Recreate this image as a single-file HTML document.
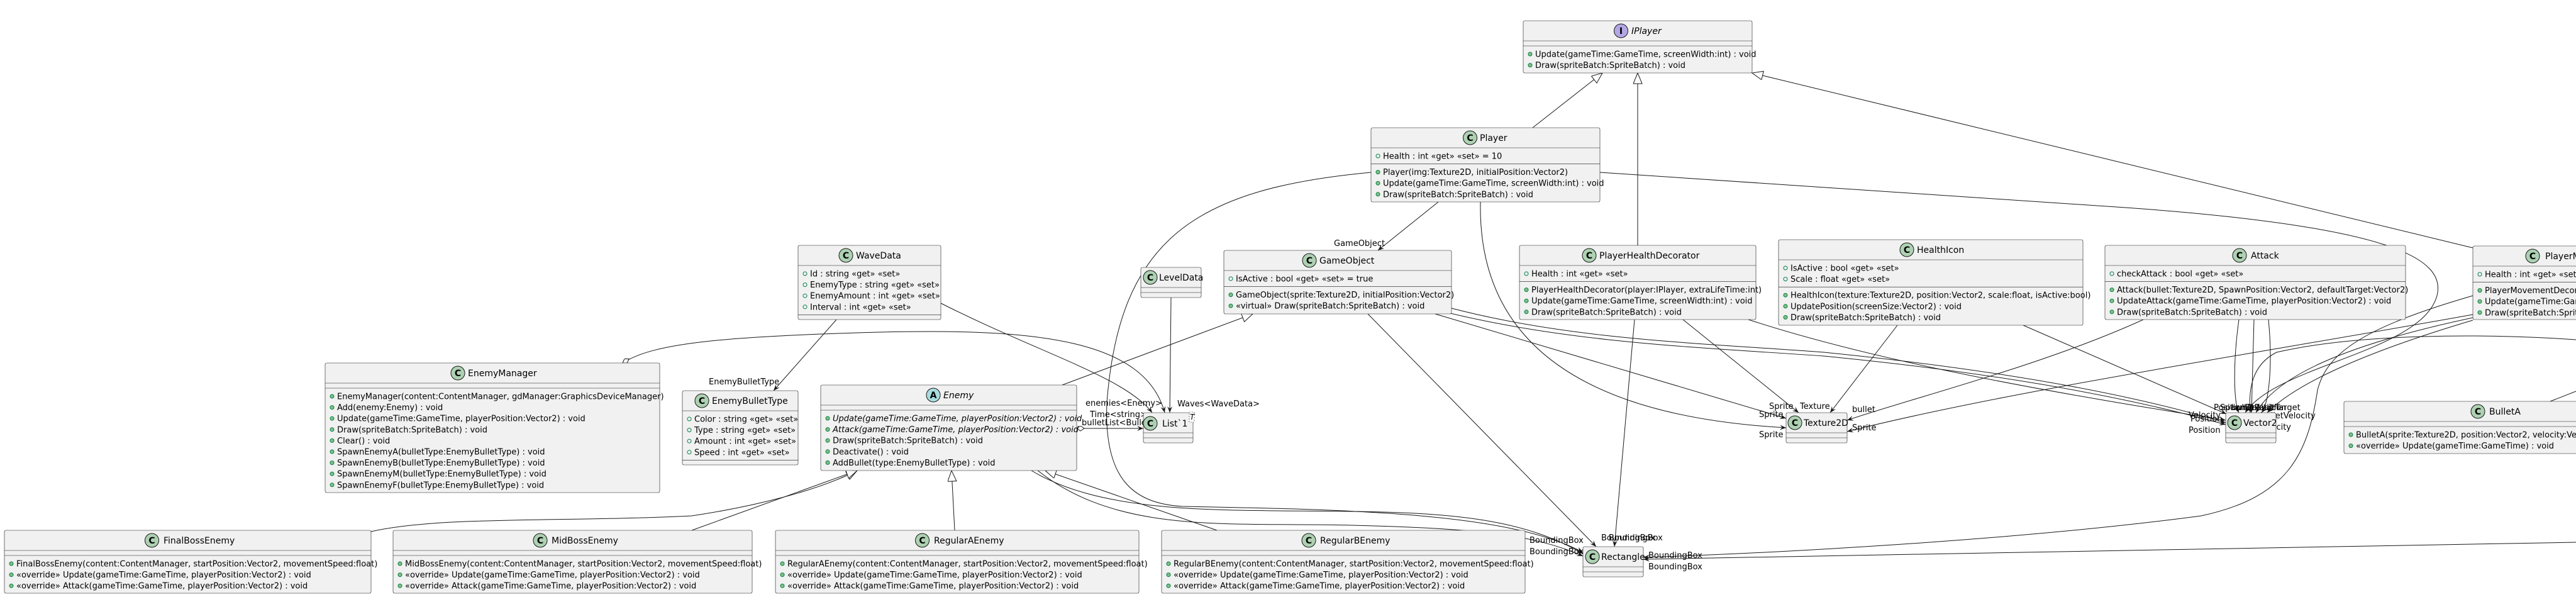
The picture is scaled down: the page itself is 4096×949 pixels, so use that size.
<!DOCTYPE html>
<html><head><meta charset="utf-8"><style>
html,body{margin:0;padding:0;background:#fff;}
svg{display:block;}
text{font-family:"DejaVu Sans","Liberation Sans",sans-serif;font-size:13px;fill:#000;}
.t{font-size:14px;}
.i{font-style:italic;}
.l{font-size:12px;}
.b{fill:#F1F1F1;stroke:#181818;stroke-width:0.6;}
.s{stroke:#181818;stroke-width:0.6;}
.e{fill:none;stroke:#181818;stroke-width:1;}
.ma{fill:none;stroke:#038048;stroke-width:1;}
.mm{fill:#84BE84;stroke:#038048;stroke-width:1;}
.ic{fill:#ADD1B2;stroke:#181818;stroke-width:1;}
.il{font-size:14px;font-weight:bold;text-anchor:middle;}
</style></head><body>
<svg width="4096" height="949" viewBox="0 0 4096 949" xmlns="http://www.w3.org/2000/svg">
<defs>
<marker id="ar" markerUnits="userSpaceOnUse" markerWidth="12" markerHeight="10" refX="10" refY="4" orient="auto"><path d="M0,0 L10,4 L0,8 L4,4 Z" fill="#181818"/></marker>
<marker id="tr" markerUnits="userSpaceOnUse" markerWidth="20" markerHeight="16" refX="18" refY="7" orient="auto"><path d="M1,0 L18,7 L1,14 Z" fill="#fff" stroke="#181818" stroke-width="1"/></marker>
<marker id="di" markerUnits="userSpaceOnUse" markerWidth="14" markerHeight="10" refX="1" refY="4" orient="auto"><path d="M1,4 L7,0 L13,4 L7,8 Z" fill="#fff" stroke="#181818" stroke-width="1"/></marker>
</defs>

<!-- ===== EDGES ===== -->
<g class="e">
<path d="M2437,203 L2548,116" marker-end="url(#tr)"/>
<path d="M2604,390 L2604,116" marker-end="url(#tr)"/>
<path d="M3932,394 L2786,116" marker-end="url(#tr)"/>
<path d="M2287,321 L2191,398" marker-end="url(#ar)"/>
<path d="M1689,612 L1992,499" marker-end="url(#tr)"/>
<path d="M1862,473 L1860,656" marker-end="url(#ar)"/>
<path d="M1330,508 L1230,621" marker-end="url(#ar)"/>
<path d="M1496,482 C1650,560 1790,600 1832,656" marker-end="url(#ar)"/>
<path d="M990,577 C1040,545 1150,535 1400,528 C1650,522 1820,540 1852,656" marker-start="url(#di)" marker-end="url(#ar)"/>
<path d="M1712,681 L1818,681" marker-start="url(#di)" marker-end="url(#ar)"/>
<!-- enemy subclasses -->
<path d="M590,845 C700,820 900,830 1100,820 C1200,805 1300,780 1363,748" marker-end="url(#tr)"/>
<path d="M1100,843 L1363,748" marker-end="url(#tr)"/>
<path d="M1518,843 L1513,748" marker-end="url(#tr)"/>
<path d="M1935,843 L1662,748" marker-end="url(#tr)"/>
<!-- Enemy -> Rectangle -->
<path d="M1640,748 C1760,820 1950,810 2150,813 C2330,815 2430,830 2517,880" marker-end="url(#ar)"/>
<path d="M1650,748 C1780,850 1950,830 2150,835 C2350,840 2440,850 2517,884" marker-end="url(#ar)"/>
<!-- Player -> Rectangle -->
<path d="M2180,274 C1900,300 1780,380 1760,640 C1755,760 1800,800 1880,805 C2150,810 2400,815 2517,878" marker-end="url(#ar)"/>
<!-- Player -> Texture2D -->
<path d="M2354,321 C2350,520 2480,660 2840,680" marker-end="url(#ar)"/>
<!-- Player -> Vector2 -->
<path d="M2544,274 L3380,330 C3800,360 3890,410 3875,470 C3850,560 3620,580 3570,656" marker-end="url(#ar)"/>
<!-- GameObject edges -->
<path d="M2282,499 L2840,665" marker-end="url(#ar)"/>
<path d="M2308,490 C2500,540 2700,545 2900,560 C3200,590 3400,630 3539,672" marker-end="url(#ar)"/>
<path d="M2302,497 C2500,545 2700,552 2900,566 C3200,595 3400,636 3539,675" marker-end="url(#ar)"/>
<path d="M2175,499 L2538,869" marker-end="url(#ar)"/>
<!-- PHD edges -->
<path d="M2599,508 L2567,869" marker-end="url(#ar)"/>
<path d="M2676,508 L2860,656" marker-end="url(#ar)"/>
<path d="M2780,508 C3000,580 3300,630 3539,668" marker-end="url(#ar)"/>
<!-- HealthIcon edges -->
<path d="M3017,517 L2910,656" marker-end="url(#ar)"/>
<path d="M3217,517 L3540,658" marker-end="url(#ar)"/>
<!-- Attack edges -->
<path d="M3408,508 C3250,580 3050,630 2937,668" marker-end="url(#ar)"/>
<path d="M3560,508 C3550,580 3552,640 3560,656" marker-end="url(#ar)"/>
<path d="M3584,508 L3580,656" marker-end="url(#ar)"/>
<path d="M3607,508 C3614,580 3608,640 3596,656" marker-end="url(#ar)"/>
<!-- PMD edges -->
<path d="M3932,500 C3600,560 3200,620 2937,686" marker-end="url(#ar)"/>
<path d="M3932,505 C3720,550 3620,600 3587,656" marker-end="url(#ar)"/>
<path d="M3932,509 C3760,560 3650,610 3605,656" marker-end="url(#ar)"/>
<path d="M3932,470 C3760,520 3700,560 3685,620 C3670,720 3640,790 3500,820 C3200,860 2800,880 2613,886" marker-end="url(#ar)"/>
<path d="M4096,540 C3950,530 3750,530 3620,560 C3580,580 3575,620 3578,656" marker-end="url(#ar)"/>
<path d="M4096,862 L2613,889" marker-end="url(#ar)"/>
<path d="M4055,638 L4096,622"/>
</g>

<!-- edge labels -->
<g class="l">
<text x="2121" y="391">GameObject</text>
<text x="1872" y="646">Waves&lt;WaveData&gt;</text>
<text x="1127" y="611">EnemyBulletType</text>
<text x="1726" y="645">enemies&lt;Enemy&gt;</text>
<text x="1733" y="663">Time&lt;string&gt;</text>
<text x="1720" y="676">bulletList&lt;Bullet.Bullet&gt;</text>
<text x="2813" y="650">Sprite</text>
<text x="2862" y="650">Texture</text>
<text x="2797" y="663">Sprite</text>
<text x="2945" y="655">bullet</text>
<text x="2945" y="684">Sprite</text>
<text x="2797" y="695">Sprite</text>
<text x="3520" y="652">Position</text>
<text x="3530" y="652">SpawnPosition</text>
<text x="3548" y="652">bulletPosition</text>
<text x="3570" y="652">DefaultTarget</text>
<text x="3594" y="665">bulletVelocity</text>
<text x="3592" y="683">Velocity</text>
<text x="3480" y="664">Velocity</text>
<text x="3483" y="670">Position</text>
<text x="3480" y="688">Position</text>
<text x="2432" y="863">BoundingBox</text>
<text x="2432" y="881">BoundingBox</text>
<text x="2546" y="859">BoundingBox</text>
<text x="2558" y="859">BoundingBox</text>
<text x="2621" y="887">BoundingBox</text>
<text x="2621" y="905">BoundingBox</text>
</g>

<!-- ===== CLASSES ===== -->
<!-- IPlayer -->
<g>
<rect class="b" x="2422" y="33" width="364" height="83" rx="2.5"/>
<line class="s" x1="2422" y1="65" x2="2786" y2="65"/><line class="s" x1="2422" y1="73" x2="2786" y2="73"/>
<circle cx="2577.5" cy="49" r="11" fill="#B4A7E5" stroke="#181818"/><text class="il" x="2577.5" y="54">I</text>
<text class="t i" x="2594" y="54">IPlayer</text>
<circle class="mm" cx="2433" cy="86" r="3"/><text x="2441" y="90.5">Update(gameTime:GameTime, screenWidth:int) : void</text>
<circle class="mm" cx="2433" cy="103.6" r="3"/><text x="2441" y="108">Draw(spriteBatch:SpriteBatch) : void</text>
</g>
<!-- Player -->
<g>
<rect class="b" x="2180" y="203" width="364" height="118" rx="2.5"/>
<line class="s" x1="2180" y1="235" x2="2544" y2="235"/><line class="s" x1="2180" y1="260.6" x2="2544" y2="260.6"/>
<circle class="ic" cx="2337.5" cy="219" r="11"/><text class="il" x="2337.5" y="224">C</text>
<text class="t" x="2353" y="224">Player</text>
<circle class="ma" cx="2191" cy="248" r="3"/><text x="2199" y="252.5">Health : int «get» «set» = 10</text>
<circle class="mm" cx="2191" cy="273.6" r="3"/><text x="2199" y="278">Player(img:Texture2D, initialPosition:Vector2)</text>
<circle class="mm" cx="2191" cy="291.2" r="3"/><text x="2199" y="295.7">Update(gameTime:GameTime, screenWidth:int) : void</text>
<circle class="mm" cx="2191" cy="308.8" r="3"/><text x="2199" y="313.3">Draw(spriteBatch:SpriteBatch) : void</text>
</g>
<!-- GameObject -->
<g>
<rect class="b" x="1946" y="398" width="362" height="101" rx="2.5"/>
<line class="s" x1="1946" y1="430" x2="2308" y2="430"/><line class="s" x1="1946" y1="455.6" x2="2308" y2="455.6"/>
<circle class="ic" cx="2082" cy="414" r="11"/><text class="il" x="2082" y="419">C</text>
<text class="t" x="2098" y="419">GameObject</text>
<circle class="ma" cx="1957" cy="443" r="3"/><text x="1965" y="447.5">IsActive : bool «get» «set» = true</text>
<circle class="mm" cx="1957" cy="468.6" r="3"/><text x="1965" y="473">GameObject(sprite:Texture2D, initialPosition:Vector2)</text>
<circle class="mm" cx="1957" cy="486.2" r="3"/><text x="1965" y="490.7">«virtual» Draw(spriteBatch:SpriteBatch) : void</text>
</g>
<!-- LevelData -->
<g>
<rect class="b" x="1814" y="425" width="96" height="48" rx="2.5"/>
<line class="s" x1="1814" y1="457" x2="1910" y2="457"/><line class="s" x1="1814" y1="465" x2="1910" y2="465"/>
<circle class="ic" cx="1829" cy="441" r="11"/><text class="il" x="1829" y="446">C</text>
<text class="t" x="1843" y="446">LevelData</text>
</g>
<!-- WaveData -->
<g>
<rect class="b" x="1269" y="390" width="227" height="118" rx="2.5"/>
<line class="s" x1="1269" y1="422" x2="1496" y2="422"/><line class="s" x1="1269" y1="500.4" x2="1496" y2="500.4"/>
<circle class="ic" cx="1345" cy="406" r="11"/><text class="il" x="1345" y="411">C</text>
<text class="t" x="1361" y="411">WaveData</text>
<circle class="ma" cx="1280" cy="435" r="3"/><text x="1288" y="439.5">Id : string «get» «set»</text>
<circle class="ma" cx="1280" cy="452.6" r="3"/><text x="1288" y="457">EnemyType : string «get» «set»</text>
<circle class="ma" cx="1280" cy="470.2" r="3"/><text x="1288" y="474.7">EnemyAmount : int «get» «set»</text>
<circle class="ma" cx="1280" cy="487.8" r="3"/><text x="1288" y="492.3">Interval : int «get» «set»</text>
</g>
<!-- EnemyBulletType -->
<g>
<rect class="b" x="1085" y="621" width="184" height="118" rx="2.5"/>
<line class="s" x1="1085" y1="653" x2="1269" y2="653"/><line class="s" x1="1085" y1="731.4" x2="1269" y2="731.4"/>
<circle class="ic" cx="1116" cy="637" r="11"/><text class="il" x="1116" y="642">C</text>
<text class="t" x="1132" y="642">EnemyBulletType</text>
<circle class="ma" cx="1096" cy="666" r="3"/><text x="1104" y="670.5">Color : string «get» «set»</text>
<circle class="ma" cx="1096" cy="683.6" r="3"/><text x="1104" y="688">Type : string «get» «set»</text>
<circle class="ma" cx="1096" cy="701.2" r="3"/><text x="1104" y="705.7">Amount : int «get» «set»</text>
<circle class="ma" cx="1096" cy="718.8" r="3"/><text x="1104" y="723.3">Speed : int «get» «set»</text>
</g>
<!-- EnemyManager -->
<g>
<rect class="b" x="517" y="577" width="532" height="206" rx="2.5"/>
<line class="s" x1="517" y1="609" x2="1049" y2="609"/><line class="s" x1="517" y1="617" x2="1049" y2="617"/>
<circle class="ic" cx="728" cy="593" r="11"/><text class="il" x="728" y="598">C</text>
<text class="t" x="744" y="598">EnemyManager</text>
<circle class="mm" cx="528" cy="630" r="3"/><text x="536" y="634.5">EnemyManager(content:ContentManager, gdManager:GraphicsDeviceManager)</text>
<circle class="mm" cx="528" cy="647.6" r="3"/><text x="536" y="652">Add(enemy:Enemy) : void</text>
<circle class="mm" cx="528" cy="665.2" r="3"/><text x="536" y="669.7">Update(gameTime:GameTime, playerPosition:Vector2) : void</text>
<circle class="mm" cx="528" cy="682.8" r="3"/><text x="536" y="687.3">Draw(spriteBatch:SpriteBatch) : void</text>
<circle class="mm" cx="528" cy="700.4" r="3"/><text x="536" y="704.9">Clear() : void</text>
<circle class="mm" cx="528" cy="718" r="3"/><text x="536" y="722.5">SpawnEnemyA(bulletType:EnemyBulletType) : void</text>
<circle class="mm" cx="528" cy="735.6" r="3"/><text x="536" y="740.1">SpawnEnemyB(bulletType:EnemyBulletType) : void</text>
<circle class="mm" cx="528" cy="753.2" r="3"/><text x="536" y="757.7">SpawnEnemyM(bulletType:EnemyBulletType) : void</text>
<circle class="mm" cx="528" cy="770.8" r="3"/><text x="536" y="775.3">SpawnEnemyF(bulletType:EnemyBulletType) : void</text>
</g>
<!-- Enemy -->
<g>
<rect class="b" x="1305" y="612" width="407" height="136" rx="2.5"/>
<line class="s" x1="1305" y1="644" x2="1712" y2="644"/><line class="s" x1="1305" y1="652" x2="1712" y2="652"/>
<circle cx="1484" cy="628" r="11" fill="#A9DCDF" stroke="#181818"/><text class="il" x="1484" y="633">A</text>
<text class="t i" x="1500" y="633">Enemy</text>
<circle class="mm" cx="1316" cy="665" r="3"/><text class="i" x="1324" y="669.5">Update(gameTime:GameTime, playerPosition:Vector2) : void</text>
<circle class="mm" cx="1316" cy="682.6" r="3"/><text class="i" x="1324" y="687">Attack(gameTime:GameTime, playerPosition:Vector2) : void</text>
<circle class="mm" cx="1316" cy="700.2" r="3"/><text x="1324" y="704.7">Draw(spriteBatch:SpriteBatch) : void</text>
<circle class="mm" cx="1316" cy="717.8" r="3"/><text x="1324" y="722.3">Deactivate() : void</text>
<circle class="mm" cx="1316" cy="735.4" r="3"/><text x="1324" y="739.9">AddBullet(type:EnemyBulletType) : void</text>
</g>
<!-- List`1 -->
<g>
<rect class="b" x="1818" y="656" width="79" height="48" rx="2.5"/>
<line class="s" x1="1818" y1="688" x2="1897" y2="688"/><line class="s" x1="1818" y1="696" x2="1897" y2="696"/>
<rect x="1891" y="655" width="8" height="16" fill="#fff" stroke="#181818" stroke-width="0.6" stroke-dasharray="2,2"/>
<text class="l i" x="1892" y="667">T</text>
<circle class="ic" cx="1829" cy="673" r="11"/><text class="il" x="1829" y="678">C</text>
<text class="t" x="1848" y="678">List`1</text>
</g>
<!-- PlayerHealthDecorator -->
<g>
<rect class="b" x="2416" y="390" width="376" height="118" rx="2.5"/>
<line class="s" x1="2416" y1="422" x2="2792" y2="422"/><line class="s" x1="2416" y1="447.6" x2="2792" y2="447.6"/>
<circle class="ic" cx="2527" cy="406" r="11"/><text class="il" x="2527" y="411">C</text>
<text class="t" x="2543" y="411">PlayerHealthDecorator</text>
<circle class="ma" cx="2427" cy="435" r="3"/><text x="2435" y="439.5">Health : int «get» «set»</text>
<circle class="mm" cx="2427" cy="460.6" r="3"/><text x="2435" y="465">PlayerHealthDecorator(player:IPlayer, extraLifeTime:int)</text>
<circle class="mm" cx="2427" cy="478.2" r="3"/><text x="2435" y="482.7">Update(gameTime:GameTime, screenWidth:int) : void</text>
<circle class="mm" cx="2427" cy="495.8" r="3"/><text x="2435" y="500.3">Draw(spriteBatch:SpriteBatch) : void</text>
</g>
<!-- HealthIcon -->
<g>
<rect class="b" x="2828" y="381" width="484" height="136" rx="2.5"/>
<line class="s" x1="2828" y1="413" x2="3312" y2="413"/><line class="s" x1="2828" y1="456.2" x2="3312" y2="456.2"/>
<circle class="ic" cx="3032" cy="397" r="11"/><text class="il" x="3032" y="402">C</text>
<text class="t" x="3048" y="402">HealthIcon</text>
<circle class="ma" cx="2839" cy="426" r="3"/><text x="2847" y="430.5">IsActive : bool «get» «set»</text>
<circle class="ma" cx="2839" cy="443.6" r="3"/><text x="2847" y="448">Scale : float «get» «set»</text>
<circle class="mm" cx="2839" cy="469.2" r="3"/><text x="2847" y="473.7">HealthIcon(texture:Texture2D, position:Vector2, scale:float, isActive:bool)</text>
<circle class="mm" cx="2839" cy="486.8" r="3"/><text x="2847" y="491.3">UpdatePosition(screenSize:Vector2) : void</text>
<circle class="mm" cx="2839" cy="504.4" r="3"/><text x="2847" y="508.9">Draw(spriteBatch:SpriteBatch) : void</text>
</g>
<!-- Texture2D -->
<g>
<rect class="b" x="2840" y="656" width="97" height="48" rx="2.5"/>
<line class="s" x1="2840" y1="688" x2="2937" y2="688"/><line class="s" x1="2840" y1="696" x2="2937" y2="696"/>
<circle class="ic" cx="2854" cy="672" r="11"/><text class="il" x="2854" y="677">C</text>
<text class="t" x="2868" y="677">Texture2D</text>
</g>
<!-- Attack -->
<g>
<rect class="b" x="3347" y="390" width="478" height="118" rx="2.5"/>
<line class="s" x1="3347" y1="422" x2="3825" y2="422"/><line class="s" x1="3347" y1="447.6" x2="3825" y2="447.6"/>
<circle class="ic" cx="3561" cy="406" r="11"/><text class="il" x="3561" y="411">C</text>
<text class="t" x="3579" y="411">Attack</text>
<circle class="ma" cx="3358" cy="435" r="3"/><text x="3366" y="439.5">checkAttack : bool «get» «set»</text>
<circle class="mm" cx="3358" cy="460.6" r="3"/><text x="3366" y="465">Attack(bullet:Texture2D, SpawnPosition:Vector2, defaultTarget:Vector2)</text>
<circle class="mm" cx="3358" cy="478.2" r="3"/><text x="3366" y="482.7">UpdateAttack(gameTime:GameTime, playerPosition:Vector2) : void</text>
<circle class="mm" cx="3358" cy="495.8" r="3"/><text x="3366" y="500.3">Draw(spriteBatch:SpriteBatch) : void</text>
</g>
<!-- PlayerMovementDecorator -->
<g>
<rect class="b" x="3932" y="391" width="400" height="117" rx="2.5"/>
<line class="s" x1="3932" y1="423" x2="4332" y2="423"/><line class="s" x1="3932" y1="448.6" x2="4332" y2="448.6"/>
<circle class="ic" cx="4027" cy="407" r="11"/><text class="il" x="4027" y="412">C</text>
<text class="t" x="4047" y="412">PlayerMovementDecorator</text>
<circle class="ma" cx="3943" cy="436" r="3"/><text x="3951" y="440.5">Health : int «get» «set»</text>
<circle class="mm" cx="3943" cy="461.6" r="3"/><text x="3951" y="466">PlayerMovementDecorator(player:IPlayer)</text>
<circle class="mm" cx="3943" cy="479.2" r="3"/><text x="3951" y="483.7">Update(gameTime:GameTime, screenWidth:int) : void</text>
<circle class="mm" cx="3943" cy="496.8" r="3"/><text x="3951" y="501.3">Draw(spriteBatch:SpriteBatch) : void</text>
</g>
<!-- Vector2 -->
<g>
<rect class="b" x="3539" y="656" width="80" height="48" rx="2.5"/>
<line class="s" x1="3539" y1="688" x2="3619" y2="688"/><line class="s" x1="3539" y1="696" x2="3619" y2="696"/>
<circle class="ic" cx="3553" cy="672" r="11"/><text class="il" x="3553" y="677">C</text>
<text class="t" x="3567" y="677">Vector2</text>
</g>
<!-- BulletA -->
<g>
<rect class="b" x="3727" y="638" width="500" height="83" rx="2.5"/>
<line class="s" x1="3727" y1="670" x2="4227" y2="670"/><line class="s" x1="3727" y1="678" x2="4227" y2="678"/>
<circle class="ic" cx="3940" cy="654" r="11"/><text class="il" x="3940" y="659">C</text>
<text class="t" x="3958" y="659">BulletA</text>
<circle class="mm" cx="3738" cy="691" r="3"/><text x="3746" y="695.5">BulletA(sprite:Texture2D, position:Vector2, velocity:Vector2)</text>
<circle class="mm" cx="3738" cy="708.6" r="3"/><text x="3746" y="713">«override» Update(gameTime:GameTime) : void</text>
</g>
<!-- FinalBossEnemy -->
<g>
<rect class="b" x="7" y="843" width="583" height="100" rx="2.5"/>
<line class="s" x1="7" y1="875" x2="590" y2="875"/><line class="s" x1="7" y1="883" x2="590" y2="883"/>
<circle class="ic" cx="241.5" cy="859" r="11"/><text class="il" x="241.5" y="864">C</text>
<text class="t" x="260" y="864">FinalBossEnemy</text>
<circle class="mm" cx="18" cy="896" r="3"/><text x="26" y="900.5">FinalBossEnemy(content:ContentManager, startPosition:Vector2, movementSpeed:float)</text>
<circle class="mm" cx="18" cy="913.6" r="3"/><text x="26" y="918">«override» Update(gameTime:GameTime, playerPosition:Vector2) : void</text>
<circle class="mm" cx="18" cy="931.2" r="3"/><text x="26" y="935.7">«override» Attack(gameTime:GameTime, playerPosition:Vector2) : void</text>
</g>
<!-- MidBossEnemy -->
<g>
<rect class="b" x="625" y="843" width="571" height="100" rx="2.5"/>
<line class="s" x1="625" y1="875" x2="1196" y2="875"/><line class="s" x1="625" y1="883" x2="1196" y2="883"/>
<circle class="ic" cx="859" cy="859" r="11"/><text class="il" x="859" y="864">C</text>
<text class="t" x="877" y="864">MidBossEnemy</text>
<circle class="mm" cx="636" cy="896" r="3"/><text x="644" y="900.5">MidBossEnemy(content:ContentManager, startPosition:Vector2, movementSpeed:float)</text>
<circle class="mm" cx="636" cy="913.6" r="3"/><text x="644" y="918">«override» Update(gameTime:GameTime, playerPosition:Vector2) : void</text>
<circle class="mm" cx="636" cy="931.2" r="3"/><text x="644" y="935.7">«override» Attack(gameTime:GameTime, playerPosition:Vector2) : void</text>
</g>
<!-- RegularAEnemy -->
<g>
<rect class="b" x="1233" y="843" width="578" height="100" rx="2.5"/>
<line class="s" x1="1233" y1="875" x2="1811" y2="875"/><line class="s" x1="1233" y1="883" x2="1811" y2="883"/>
<circle class="ic" cx="1466.5" cy="859" r="11"/><text class="il" x="1466.5" y="864">C</text>
<text class="t" x="1485" y="864">RegularAEnemy</text>
<circle class="mm" cx="1244" cy="896" r="3"/><text x="1252" y="900.5">RegularAEnemy(content:ContentManager, startPosition:Vector2, movementSpeed:float)</text>
<circle class="mm" cx="1244" cy="913.6" r="3"/><text x="1252" y="918">«override» Update(gameTime:GameTime, playerPosition:Vector2) : void</text>
<circle class="mm" cx="1244" cy="931.2" r="3"/><text x="1252" y="935.7">«override» Attack(gameTime:GameTime, playerPosition:Vector2) : void</text>
</g>
<!-- RegularBEnemy -->
<g>
<rect class="b" x="1847" y="843" width="578" height="100" rx="2.5"/>
<line class="s" x1="1847" y1="875" x2="2425" y2="875"/><line class="s" x1="1847" y1="883" x2="2425" y2="883"/>
<circle class="ic" cx="2081" cy="859" r="11"/><text class="il" x="2081" y="864">C</text>
<text class="t" x="2099" y="864">RegularBEnemy</text>
<circle class="mm" cx="1858" cy="896" r="3"/><text x="1866" y="900.5">RegularBEnemy(content:ContentManager, startPosition:Vector2, movementSpeed:float)</text>
<circle class="mm" cx="1858" cy="913.6" r="3"/><text x="1866" y="918">«override» Update(gameTime:GameTime, playerPosition:Vector2) : void</text>
<circle class="mm" cx="1858" cy="931.2" r="3"/><text x="1866" y="935.7">«override» Attack(gameTime:GameTime, playerPosition:Vector2) : void</text>
</g>
<!-- Rectangle -->
<g>
<rect class="b" x="2517" y="869" width="96" height="48" rx="2.5"/>
<line class="s" x1="2517" y1="901" x2="2613" y2="901"/><line class="s" x1="2517" y1="909" x2="2613" y2="909"/>
<circle class="ic" cx="2532" cy="885" r="11"/><text class="il" x="2532" y="890">C</text>
<text class="t" x="2546" y="890">Rectangle</text>
</g>
</svg>
</body></html>
